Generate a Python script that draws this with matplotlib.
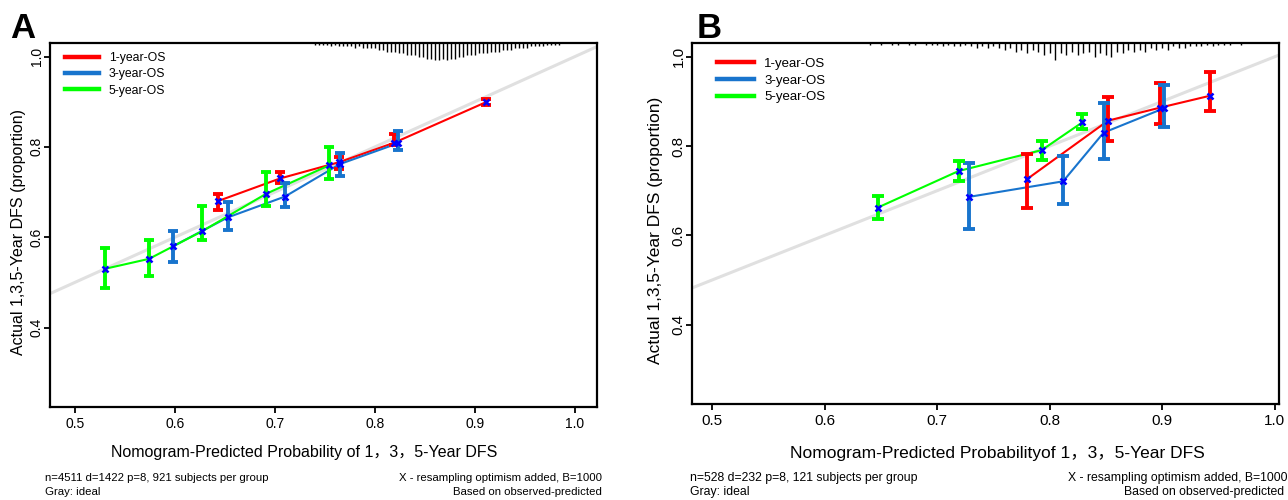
import numpy as np
import matplotlib
matplotlib.use('Agg')
import matplotlib.pyplot as plt
from matplotlib.lines import Line2D

plt.rcParams['font.family'] = ['Liberation Sans', 'Noto Sans CJK SC', 'DejaVu Sans']

# ---------------- data : panel A ----------------
a_x_1y = [0.643, 0.705, 0.764, 0.819, 0.911]
a_y_1y = [0.680, 0.730, 0.766, 0.809, 0.899]
a_lo_1y = [0.661, 0.720, 0.752, 0.805, 0.893]
a_hi_1y = [0.696, 0.744, 0.778, 0.828, 0.905]

a_x_3y = [0.598, 0.653, 0.710, 0.765, 0.823]
a_y_3y = [0.580, 0.644, 0.690, 0.762, 0.808]
a_lo_3y = [0.544, 0.615, 0.667, 0.735, 0.793]
a_hi_3y = [0.613, 0.678, 0.720, 0.787, 0.835]

a_x_5y = [0.530, 0.574, 0.627, 0.691, 0.754]
a_y_5y = [0.530, 0.552, 0.613, 0.696, 0.759]
a_lo_5y = [0.488, 0.513, 0.594, 0.668, 0.728]
a_hi_5y = [0.576, 0.593, 0.668, 0.744, 0.800]

# distribution of predicted probabilities (relative frequency, top rug)
a_rug_start, a_rug_step = 0.740, 0.004
a_rug_counts = [1, 1, 1, 1, 2, 1, 2, 2, 2, 2, 3, 2, 3, 3, 3,
                3, 4, 4, 5, 5, 5, 6, 6, 7, 7,
                7, 8, 8, 9, 9, 10, 10, 9, 10, 9,
                9, 8, 8, 7, 7, 7, 6, 6, 6, 5,
                5, 5, 4, 4, 4, 3, 3, 3, 3, 2,
                2, 2, 2, 1, 1, 1, 1]

# ---------------- data : panel B ----------------
b_x_1y = [0.780, 0.852, 0.898, 0.943]
b_y_1y = [0.726, 0.857, 0.886, 0.913]
b_lo_1y = [0.661, 0.812, 0.849, 0.879]
b_hi_1y = [0.782, 0.909, 0.941, 0.966]

b_x_3y = [0.728, 0.812, 0.848, 0.902]
b_y_3y = [0.686, 0.721, 0.830, 0.885]
b_lo_3y = [0.615, 0.670, 0.772, 0.843]
b_hi_3y = [0.761, 0.778, 0.896, 0.937]

b_x_5y = [0.647, 0.719, 0.793, 0.829]
b_y_5y = [0.662, 0.744, 0.791, 0.853]
b_lo_5y = [0.637, 0.721, 0.769, 0.838]
b_hi_5y = [0.688, 0.766, 0.811, 0.871]

b_rug_start, b_rug_step = 0.640, 0.005
b_rug_counts = [1, 0, 1, 0, 1, 1, 0, 1, 1, 0, 1, 1,
                1, 2, 1, 2, 2, 1, 2, 3, 2, 3, 2, 3,
                4, 3, 5, 4, 6, 4, 5, 7, 6, 10, 6, 7,
                5, 7, 6, 5, 8, 6, 7, 8, 5, 6, 4, 5,
                4, 5, 3, 4, 3, 4, 2, 3, 3, 2, 2, 2,
                1, 2, 1, 1, 1, 0, 1]

series_labels = ['1-year-OS', '3-year-OS', '5-year-OS']
series_colors = ['#FF0000', '#1874CD', '#00FF00']
x_ticks = [0.5, 0.6, 0.7, 0.8, 0.9, 1.0]
y_ticks = [0.4, 0.6, 0.8, 1.0]

W, H = 1288, 500
fig = plt.figure(figsize=(W / 100, H / 100), dpi=100)


def px_axes(l, t, r, b):
    return fig.add_axes([l / W, 1 - b / H, (r - l) / W, (b - t) / H])


def draw_panel(ax, series, rug, xlim, ylim, xlabel, fs_tick, fs_lab, fs_leg,
               capsize, leg_anchor, xlab_pos, ylab_pos):
    ax.set_xlim(*xlim)
    ax.set_ylim(*ylim)
    # ideal line
    ax.plot([0, 1.2], [0, 1.2], color='#E0E0E0', lw=2.2, zorder=1)
    order = [0, 1, 2]
    for i in order:
        xs, ys, lo, hi = series[i]
        ax.plot(xs, ys, color=series_colors[i], lw=1.5, zorder=2)
    for i in order:
        xs, ys, lo, hi = series[i]
        c = series_colors[i]
        ys_a = np.array(ys)
        err = [ys_a - np.array(lo), np.array(hi) - ys_a]
        ax.errorbar(xs, ys, yerr=err, fmt='none', ecolor=c, elinewidth=2.8,
                    capsize=capsize, capthick=2.8, zorder=3)
    for i in order:
        xs, ys, lo, hi = series[i]
        ax.plot(xs, ys, ls='none', marker='x', color='#0000FF', ms=5,
                mew=1.8, zorder=4)
    # rug of predicted probabilities along the top
    start, step, counts = rug
    counts = np.array(counts, dtype=float)
    rx = start + step * np.arange(len(counts))
    keep = counts > 0
    ax.vlines(rx[keep], 1 - 0.048 * counts[keep] / counts.max(), 1,
              transform=ax.get_xaxis_transform(), color='black', lw=1.0,
              zorder=5)

    ax.set_xticks(x_ticks)
    ax.set_xticklabels([f'{v:.1f}' for v in x_ticks])
    ax.set_yticks(y_ticks)
    ax.set_yticklabels([f'{v:.1f}' for v in y_ticks])
    ax.tick_params(direction='out', length=4, width=1.3, labelsize=fs_tick,
                   color='black')
    ax.tick_params(axis='x', pad=3)
    ax.tick_params(axis='y', pad=0.5)
    for lab in ax.get_yticklabels():
        lab.set_rotation(90)
        lab.set_va('center')
        lab.set_ha('right')
    for sp in ax.spines.values():
        sp.set_linewidth(1.6)
        sp.set_color('black')

    ax.set_xlabel(xlabel, fontsize=fs_lab)
    ax.xaxis.set_label_coords(*xlab_pos)
    ax.set_ylabel('Actual 1,3,5-Year DFS (proportion)', fontsize=fs_lab)
    ax.yaxis.set_label_coords(*ylab_pos)

    handles = [Line2D([0], [0], color=c, lw=3.2) for c in series_colors]
    ax.legend(handles, series_labels, loc='upper left',
              bbox_to_anchor=leg_anchor, frameon=False, fontsize=fs_leg,
              handlelength=2.8, handletextpad=0.8, labelspacing=0.35,
              borderpad=0, borderaxespad=0)


axA = px_axes(50, 43, 597, 407)
draw_panel(axA,
           [(a_x_1y, a_y_1y, a_lo_1y, a_hi_1y),
            (a_x_3y, a_y_3y, a_lo_3y, a_hi_3y),
            (a_x_5y, a_y_5y, a_lo_5y, a_hi_5y)],
           (a_rug_start, a_rug_step, a_rug_counts),
           (0.475, 1.022), (0.224, 1.030),
           'Nomogram-Predicted Probability of 1，3，5-Year DFS',
           10, 11.5, 8.8, 3.6, (0.027, 0.975), (0.464, -0.105), (-0.044, 0.48))

axB = px_axes(692, 43, 1279, 404)
draw_panel(axB,
           [(b_x_1y, b_y_1y, b_lo_1y, b_hi_1y),
            (b_x_3y, b_y_3y, b_lo_3y, b_hi_3y),
            (b_x_5y, b_y_5y, b_lo_5y, b_hi_5y)],
           (b_rug_start, b_rug_step, b_rug_counts),
           (0.482, 1.004), (0.222, 1.031),
           'Nomogram-Predicted Probabilityof 1，3，5-Year DFS',
           11, 12.5, 9.5, 4.2, (0.042, 0.960), (0.52, -0.115), (-0.050, 0.48))

# panel letters
fig.text(10 / W, 1 - 38 / H, 'A', fontsize=25, fontweight='bold', ha='left', va='baseline')
fig.text(697 / W, 1 - 38 / H, 'B', fontsize=25, fontweight='bold', ha='left', va='baseline')

# footers
fs_foot = 8.2
fig.text(45 / W, 1 - 478 / H, 'n=4511 d=1422 p=8, 921 subjects per group',
         fontsize=fs_foot, ha='left', va='center')
fig.text(602 / W, 1 - 478 / H, 'X - resampling optimism added, B=1000',
         fontsize=fs_foot, ha='right', va='center')
fig.text(45 / W, 1 - 492 / H, 'Gray: ideal', fontsize=fs_foot, ha='left', va='center')
fig.text(602 / W, 1 - 492 / H, 'Based on observed-predicted',
         fontsize=fs_foot, ha='right', va='center')

fs_footB = 8.8
fig.text(690 / W, 1 - 478 / H, 'n=528 d=232 p=8, 121 subjects per group',
         fontsize=fs_footB, ha='left', va='center')
fig.text(1287 / W, 1 - 478 / H, 'X - resampling optimism added, B=1000',
         fontsize=fs_footB, ha='right', va='center')
fig.text(690 / W, 1 - 492 / H, 'Gray: ideal', fontsize=fs_footB, ha='left', va='center')
fig.text(1284 / W, 1 - 492 / H, 'Based on observed-predicted',
         fontsize=fs_footB, ha='right', va='center')

fig.savefig('out.png', dpi=100)
